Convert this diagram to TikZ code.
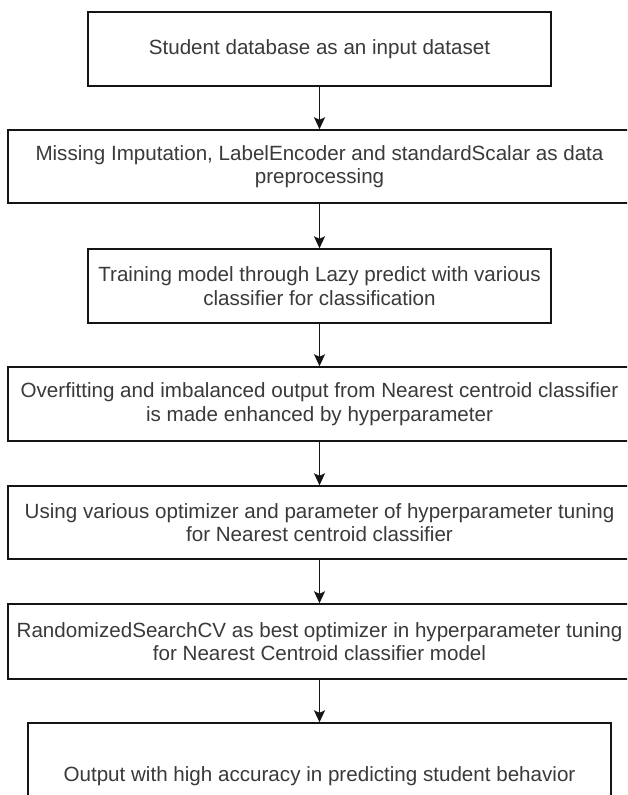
\documentclass[tikz,border=0pt]{standalone}
\usepackage{fontspec}
\setmainfont{Liberation Sans}
\usetikzlibrary{arrows.meta}
\definecolor{edge}{HTML}{151515}
\definecolor{txt}{HTML}{3A3A3A}
\begin{document}
\begin{tikzpicture}[x=1pt,y=-1pt,
  stepbox/.style={draw=edge, line width=1.4pt, fill=white, rectangle, align=center,
    text=txt, inner sep=0pt, font=\fontsize{20.6}{23.5}\selectfont},
  flow/.style={draw=edge, line width=1.5pt, -{Stealth[length=12pt,width=11pt,inset=2.5pt]}}]
\useasboundingbox (0,0) rectangle (627,795);
\begin{scope}
\clip (0,0) rectangle (627,795);
\node[stepbox, minimum width=463pt, minimum height=74pt] (b1) at (319.5,49)
  {Student database as an input dataset};
\node[stepbox, minimum width=623pt, minimum height=73pt] (b2) at (319.5,166.5)
  {Missing Imputation, LabelEncoder and standardScalar as data\\preprocessing};
\node[stepbox, minimum width=463pt, minimum height=74pt] (b3) at (319.5,286)
  {Training model through Lazy predict with various\\classifier for classification};
\node[stepbox, minimum width=623pt, minimum height=74pt] (b4) at (319.5,404)
  {Overfitting and imbalanced output from Nearest centroid classifier\\is made enhanced by hyperparameter};
\node[stepbox, minimum width=623pt, minimum height=73pt] (b5) at (319.5,522.5)
  {Using various optimizer and parameter of hyperparameter tuning\\for Nearest centroid classifier};
\node[stepbox, minimum width=623pt, minimum height=75pt] (b6) at (319.5,641.5)
  {RandomizedSearchCV as best optimizer in hyperparameter tuning\\for Nearest Centroid classifier model};
\node[stepbox, minimum width=583pt, minimum height=106pt] (b7) at (319.5,776)
  {Output with high accuracy in predicting student behavior};
\draw[flow] (b1) -- (b2);
\draw[flow] (b2) -- (b3);
\draw[flow] (b3) -- (b4);
\draw[flow] (b4) -- (b5);
\draw[flow] (b5) -- (b6);
\draw[flow] (b6) -- (b7);
\end{scope}
\end{tikzpicture}
\end{document}
